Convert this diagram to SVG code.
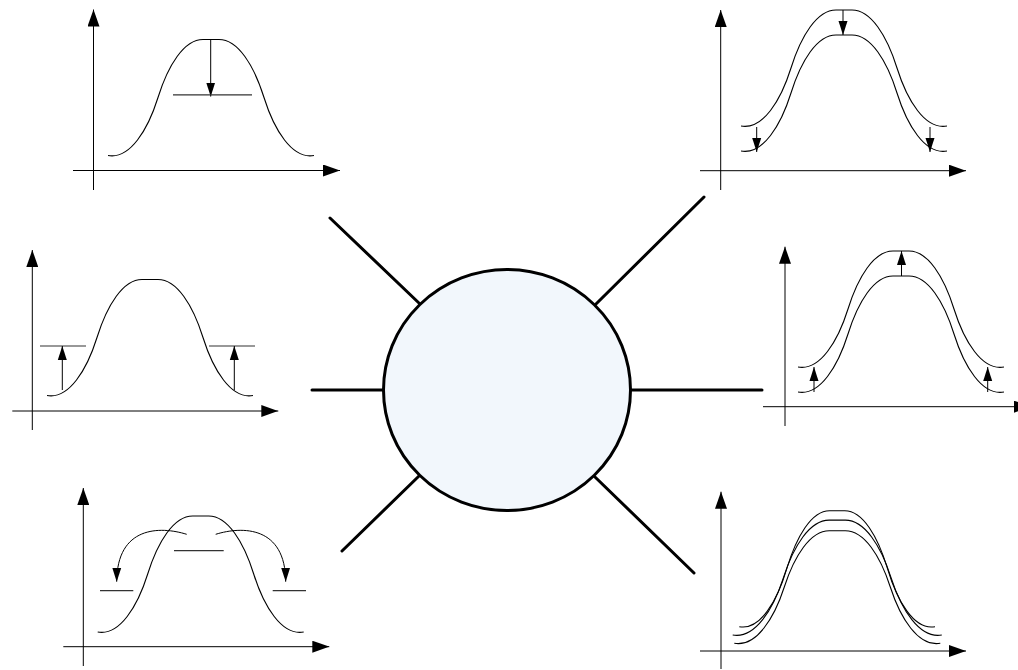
<svg xmlns="http://www.w3.org/2000/svg" xmlns:xlink="http://www.w3.org/1999/xlink" width="1018" height="670" viewBox="0 0 1018 670">
<style>
.ax{stroke:#000;stroke-width:1;fill:none;marker-end:url(#axh)}
.cv{stroke:#000;stroke-width:1.1;fill:none}
.ar{stroke:#000;stroke-width:1;fill:none;marker-end:url(#smh)}
.lv{stroke:#333;stroke-width:1.2;fill:none}
.sp{stroke:#000;stroke-width:3;stroke-linecap:round;fill:none}
</style>
<defs>
<marker id="axh" markerUnits="userSpaceOnUse" markerWidth="17" markerHeight="12" refX="17" refY="6" orient="auto"><path d="M0,0 L17,6 L0,12 z" fill="#000"/></marker>
<marker id="smh" markerUnits="userSpaceOnUse" markerWidth="14" markerHeight="10" refX="14" refY="5" orient="auto"><path d="M0,0.5 L14,5 L0,9.5 z" fill="#000"/></marker>
<path id="bell" d="M0,0 C22,4 40,-26 50,-58 C60,-90 76,-116 95,-116 L111,-116 C130,-116 146,-90 156,-58 C166,-26 184,4 206,0" vector-effect="non-scaling-stroke"/>
</defs>

<g id="connectors">
<line class="sp" x1="330" y1="218" x2="420" y2="304"/>
<line class="sp" x1="704" y1="197" x2="596" y2="304"/>
<line class="sp" x1="312" y1="390" x2="384" y2="390"/>
<line class="sp" x1="630" y1="390" x2="762" y2="390"/>
<line class="sp" x1="342" y1="551" x2="419" y2="476"/>
<line class="sp" x1="694" y1="573" x2="595" y2="477"/>
</g>

<g id="center">
<ellipse cx="507" cy="390" rx="123.5" ry="120.5" fill="#f2f7fc" stroke="#000" stroke-width="3"/>
</g>

<g id="panel-top-left">
<line class="ax" x1="93.5" y1="190" x2="93.5" y2="9.5"/>
<line class="ax" x1="73" y1="170.5" x2="340" y2="170.5"/>
<use href="#bell" class="cv" x="108" y="155.5"/>
<line class="ar" x1="210.7" y1="39.5" x2="210.7" y2="96.5"/>
<line class="lv" x1="173" y1="94.8" x2="252" y2="94.8"/>
</g>

<g id="panel-top-right">
<line class="ax" x1="720.7" y1="190" x2="720.7" y2="10"/>
<line class="ax" x1="700" y1="170.7" x2="966" y2="170.7"/>
<use href="#bell" class="cv" x="741" y="126"/>
<use href="#bell" class="cv" x="741" y="151"/>
<line class="ar" x1="843" y1="10" x2="843" y2="35"/>
<line class="ar" x1="756.7" y1="127" x2="756.7" y2="152"/>
<line class="ar" x1="930" y1="127" x2="930" y2="152"/>
</g>

<g id="panel-mid-left">
<line class="ax" x1="32.3" y1="430" x2="32.3" y2="250"/>
<line class="ax" x1="12.3" y1="411" x2="278.3" y2="411"/>
<use href="#bell" class="cv" x="47" y="395.5"/>
<line class="lv" x1="40" y1="346" x2="86" y2="346"/>
<line class="lv" x1="209" y1="346" x2="255" y2="346"/>
<line class="ar" x1="62.3" y1="390" x2="62.3" y2="346"/>
<line class="ar" x1="234.3" y1="390" x2="234.3" y2="346"/>
</g>

<g id="panel-mid-right">
<line class="ax" x1="785" y1="426" x2="785" y2="246.7"/>
<line class="ax" x1="763" y1="406.7" x2="1031" y2="406.7"/>
<use href="#bell" class="cv" x="798" y="367"/>
<use href="#bell" class="cv" x="798" y="392"/>
<line class="ar" x1="901.5" y1="276" x2="901.5" y2="251"/>
<line class="ar" x1="814" y1="392" x2="814" y2="367"/>
<line class="ar" x1="987.7" y1="392" x2="987.7" y2="367"/>
</g>

<g id="panel-bottom-left">
<line class="ax" x1="83.3" y1="666" x2="83.3" y2="488"/>
<line class="ax" x1="63.3" y1="646.7" x2="329.3" y2="646.7"/>
<use href="#bell" class="cv" x="97.7" y="632"/>
<line class="lv" x1="174" y1="550.7" x2="223.7" y2="550.7"/>
<line class="lv" x1="100" y1="590.7" x2="133.3" y2="590.7"/>
<line class="lv" x1="272.7" y1="590.7" x2="306" y2="590.7"/>
<path class="ar" d="M186.7,534.3 C160,526 117,526 116.7,581.7"/>
<path class="ar" d="M215.7,534.3 C242.4,526 285.4,526 285.7,581.7"/>
</g>

<g id="panel-bottom-right">
<line class="ax" x1="721" y1="669" x2="721" y2="491.7"/>
<line class="ax" x1="700" y1="651" x2="966" y2="651"/>
<use href="#bell" class="cv" transform="translate(739.3,626.7) scale(0.95,1)"/>
<use href="#bell" class="cv" transform="translate(732.7,635) scale(1.015,0.99)"/>
<use href="#bell" class="cv" transform="translate(734.3,643.3) scale(1,0.97)"/>
</g>
</svg>
